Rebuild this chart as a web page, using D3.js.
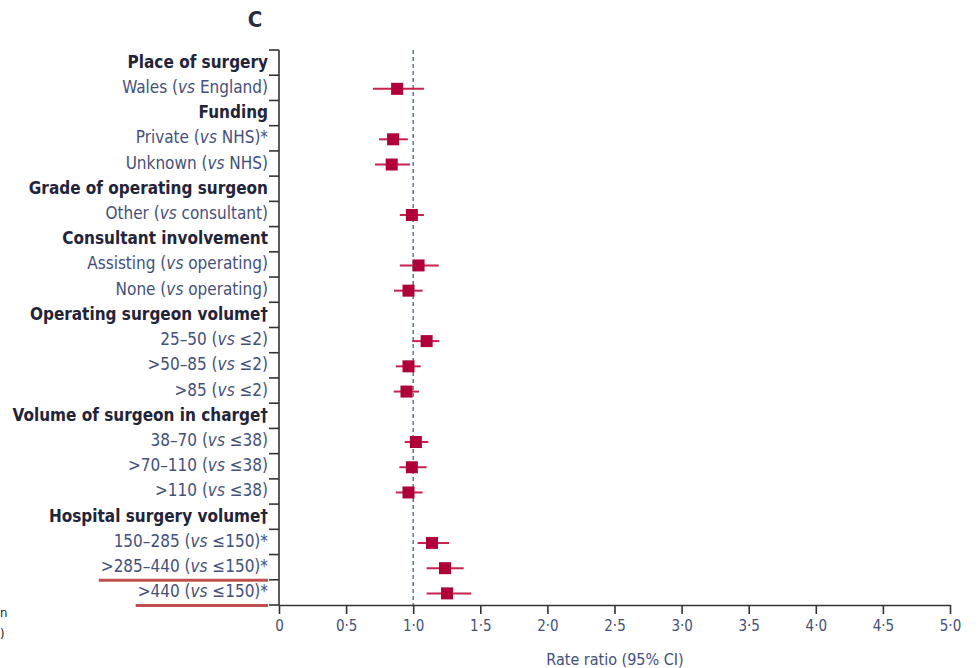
<!DOCTYPE html>
<html>
<head>
<meta charset="utf-8">
<script src="https://cdn.jsdelivr.net/npm/d3@7"></script>
<style>
  body { margin: 0; background: #fff; }
  svg { display: block; font-family: "Liberation Sans Narrow", "DejaVu Sans Condensed", sans-serif; }
</style>
</head>
<body>
<div id="chart"></div>
<script>
(function () {
  // row labels, top to bottom; headings have no estimate
  const labels = [
    'Place of surgery', 'Wales (|vs| England)',
    'Funding', 'Private (|vs| NHS)*', 'Unknown (|vs| NHS)',
    'Grade of operating surgeon', 'Other (|vs| consultant)',
    'Consultant involvement', 'Assisting (|vs| operating)', 'None (|vs| operating)',
    'Operating surgeon volume†', '25–50 (|vs| ≤2)', '>50–85 (|vs| ≤2)', '>85 (|vs| ≤2)',
    'Volume of surgeon in charge†', '38–70 (|vs| ≤38)', '>70–110 (|vs| ≤38)', '>110 (|vs| ≤38)',
    'Hospital surgery volume†', '150–285 (|vs| ≤150)*', '>285–440 (|vs| ≤150)*', '>440 (|vs| ≤150)*'
  ];
  const isHeading = [
    true, false,
    true, false, false,
    true, false,
    true, false, false,
    true, false, false, false,
    true, false, false, false,
    true, false, false, false
  ];
  const estimate = [
    null, 0.88,
    null, 0.85, 0.84,
    null, 0.99,
    null, 1.04, 0.965,
    null, 1.10, 0.965, 0.95,
    null, 1.02, 0.99, 0.965,
    null, 1.14, 1.237, 1.252
  ];
  const lower = [
    null, 0.70,
    null, 0.745, 0.715,
    null, 0.90,
    null, 0.90, 0.857,
    null, 0.993, 0.87, 0.855,
    null, 0.937, 0.897, 0.87,
    null, 1.033, 1.10, 1.10
  ];
  const upper = [
    null, 1.08,
    null, 0.96, 0.976,
    null, 1.08,
    null, 1.19, 1.07,
    null, 1.195, 1.056, 1.043,
    null, 1.113, 1.10, 1.07,
    null, 1.267, 1.376, 1.433
  ];
  const xTicks = [0, 0.5, 1, 1.5, 2, 2.5, 3, 3.5, 4, 4.5, 5];
  const underlined = [20, 21];

  const W = 978, H = 668;
  const left = 279, right = 950, top = 50, bottom = 605;

  const svg = d3.select('#chart').append('svg')
    .attr('width', W).attr('height', H);

  const x = d3.scaleLinear().domain([0, 5]).range([left, right]);
  const y = d3.scaleBand().domain(d3.range(labels.length)).range([top, bottom]);

  // panel letter
  svg.append('text')
    .attr('x', 255).attr('y', 27)
    .attr('text-anchor', 'middle')
    .attr('font-size', 22).attr('font-weight', 'bold')
    .attr('fill', '#2a2a40')
    .text('C');

  // remnants of the neighbouring panel at the left edge
  svg.append('text').attr('x', 0).attr('y', 617).attr('font-size', 13).attr('fill', '#222').text('n');
  svg.append('text').attr('x', 0).attr('y', 638).attr('font-size', 13).attr('fill', '#222').text(')');

  // y axis: ticks at row boundaries
  const yAxis = svg.append('g');
  yAxis.append('line')
    .attr('x1', left).attr('x2', left)
    .attr('y1', top).attr('y2', bottom)
    .attr('stroke', '#333').attr('stroke-width', 1.6);
  yAxis.selectAll('line.tk')
    .data(d3.range(labels.length + 1))
    .join('line')
    .attr('class', 'tk')
    .attr('x1', left - 10).attr('x2', left)
    .attr('y1', function (i) { return top + i * y.step(); })
    .attr('y2', function (i) { return top + i * y.step(); })
    .attr('stroke', '#333').attr('stroke-width', 1.6);

  // row labels, "vs" in italic
  const lab = svg.append('g').selectAll('text')
    .data(labels)
    .join('text')
    .attr('x', left - 11)
    .attr('y', function (d, i) { return y(i) + y.bandwidth() / 2 + 5; })
    .attr('text-anchor', 'end')
    .attr('font-size', 17)
    .attr('font-weight', function (d, i) { return isHeading[i] ? 'bold' : 'normal'; })
    .attr('fill', function (d, i) { return isHeading[i] ? '#23233a' : '#44507a'; });
  lab.each(function (d) {
    const t = d3.select(this);
    d.split('|').forEach(function (part, k) {
      t.append('tspan')
        .attr('font-style', k === 1 ? 'italic' : 'normal')
        .text(part);
    });
  });

  // red underline annotations
  svg.append('g').selectAll('line')
    .data(underlined)
    .join('line')
    .attr('x1', function (i) {
      return left - 11 - lab.filter(function (d, j) { return j === i; }).node().getComputedTextLength() - 2;
    })
    .attr('x2', left - 11)
    .attr('y1', function (i) { return y(i) + y.bandwidth() + 0.5; })
    .attr('y2', function (i) { return y(i) + y.bandwidth() + 0.5; })
    .attr('stroke', '#c0504d').attr('stroke-width', 3);

  // reference line at 1
  svg.append('line')
    .attr('x1', x(1)).attr('x2', x(1))
    .attr('y1', top).attr('y2', bottom)
    .attr('stroke', '#5f7888').attr('stroke-width', 1.5)
    .attr('stroke-dasharray', '4,3');

  // x axis
  const xAxis = svg.append('g')
    .attr('transform', 'translate(0,' + bottom + ')')
    .call(d3.axisBottom(x).tickValues(xTicks).tickSize(9).tickSizeOuter(0)
      .tickFormat(function (d) { return d3.format('.1f')(d).replace('.', '·').replace(/^0·0$/, '0'); }));
  xAxis.select('.domain').attr('stroke', '#333').attr('stroke-width', 1.6);
  xAxis.selectAll('.tick line').attr('stroke', '#333').attr('stroke-width', 1.6);
  xAxis.selectAll('.tick text')
    .attr('font-size', 15).attr('fill', '#44507a').attr('dy', '0.95em')
    .attr('font-family', '"Liberation Sans Narrow", "DejaVu Sans Condensed", sans-serif');

  svg.append('text')
    .attr('x', 615).attr('y', 665)
    .attr('text-anchor', 'middle')
    .attr('font-size', 16).attr('fill', '#44507a')
    .text('Rate ratio (95% CI)');

  // estimates
  const rows = d3.range(labels.length).filter(function (i) { return estimate[i] !== null; });
  const pts = svg.append('g');
  pts.selectAll('line')
    .data(rows)
    .join('line')
    .attr('x1', function (i) { return x(lower[i]); })
    .attr('x2', function (i) { return x(upper[i]); })
    .attr('y1', function (i) { return y(i) + y.bandwidth() / 2 + 1; })
    .attr('y2', function (i) { return y(i) + y.bandwidth() / 2 + 1; })
    .attr('stroke', '#c8224e').attr('stroke-width', 2);
  const s = 12;
  pts.selectAll('rect')
    .data(rows)
    .join('rect')
    .attr('x', function (i) { return x(estimate[i]) - s / 2; })
    .attr('y', function (i) { return y(i) + y.bandwidth() / 2 + 1 - s / 2; })
    .attr('width', s).attr('height', s)
    .attr('fill', '#b0003a');
})();
</script>
</body>
</html>
